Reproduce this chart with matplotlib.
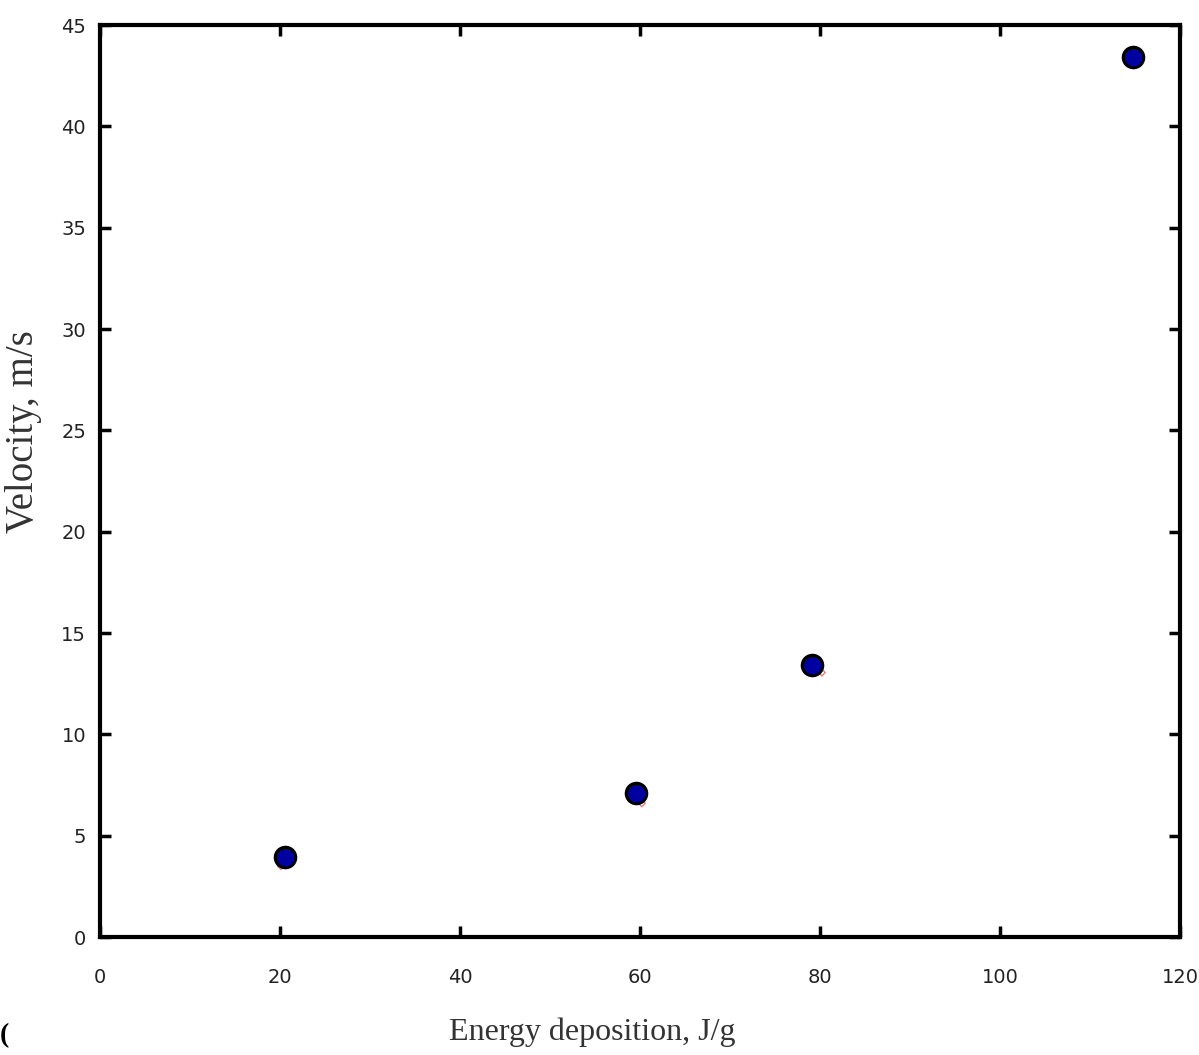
import matplotlib.pyplot as plt

# measured points (blue circles)
energy = [20.6, 59.6, 79.1, 114.8]
velocity = [3.95, 7.1, 13.4, 43.4]

# second series (small red diamonds, mostly hidden)
energy_calc = [20.1, 60.2, 80.2]
velocity_calc = [3.5, 6.6, 13.05]

xticks = [0, 20, 40, 60, 80, 100, 120]
yticks = [0, 5, 10, 15, 20, 25, 30, 35, 40, 45]

fig = plt.figure(figsize=(11.99, 10.55), dpi=100)
ax = fig.add_axes([0.0834, 0.1118, 0.9008, 0.8645])

ax.scatter(energy_calc, velocity_calc, marker='D', s=12, facecolors='none',
           edgecolors='#e08080', linewidths=1, zorder=2)
ax.scatter(energy, velocity, s=215, color='#0000a0', edgecolors='black',
           linewidths=2.3, zorder=3)

ax.set_xlim(0, 120)
ax.set_ylim(0, 45)
ax.set_xticks(xticks)
ax.set_yticks(yticks)

ax.tick_params(direction='in', length=8, width=2.5, top=True, right=True,
               labelsize=14, colors='black')
ax.tick_params(axis='x', pad=22)
ax.tick_params(axis='y', pad=10)
for lab in ax.get_xticklabels() + ax.get_yticklabels():
    lab.set_family(['Liberation Sans Narrow', 'DejaVu Sans'])
    lab.set_color('#222222')

for sp in ax.spines.values():
    sp.set_linewidth(3)

ax.set_xlabel('Energy deposition, J/g', family='Liberation Serif',
              fontsize=23, color='#333333')
ax.xaxis.set_label_coords(0.456, -0.088)
ax.set_ylabel('Velocity, m/s', family='Liberation Serif', fontsize=28,
              color='#333333')
ax.yaxis.set_label_coords(-0.054, 0.554)

fig.text(0.0, 0.012, '(', family='Liberation Serif', fontsize=20,
         fontweight='bold')

fig.savefig('out.png', dpi=100)
